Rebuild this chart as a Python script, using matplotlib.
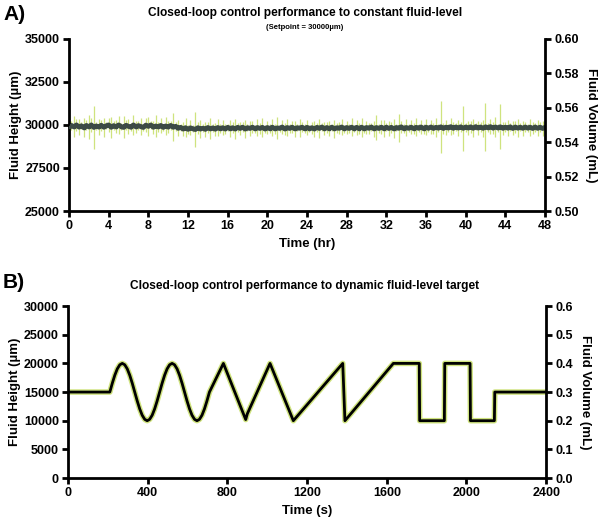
import numpy as np
import matplotlib
matplotlib.use("Agg")
import matplotlib.pyplot as plt

plt.rcParams['font.family'] = ['Liberation Sans', 'DejaVu Sans']
plt.rcParams['font.weight'] = 'bold'

# ---------------- Panel A data (time in hr, height in um) ----------------
a_step_hr = 0.25
a_mean = [
    29850, 29960, 29880, 29990, 29870, 29940, 29830, 29960, 29880, 29990, 29850, 29930, 29870, 29970, 29860, 29940,
    29990, 29860, 29950, 29880, 29990, 29900, 29850, 29970, 29910, 29860, 29990, 29880, 29950, 29900, 29850, 29980,
    29910, 29990, 29860, 29930, 29880, 29960, 29850, 29930, 29870, 29960, 29860, 29910, 29800, 29850, 29760, 29830,
    29740, 29820, 29770, 29730, 29830, 29760, 29800, 29740, 29840, 29770, 29820, 29750, 29840, 29780, 29830, 29760,
    29850, 29780, 29830, 29760, 29850, 29790, 29860, 29760, 29830, 29790, 29860, 29770, 29840, 29790, 29850, 29760,
    29840, 29780, 29860, 29770, 29820, 29790, 29870, 29760, 29840, 29790, 29860, 29770, 29830, 29800, 29860, 29770,
    29850, 29780, 29830, 29760, 29850, 29790, 29870, 29770, 29840, 29780, 29860, 29770, 29830, 29800, 29870, 29770,
    29840, 29790, 29860, 29770, 29850, 29780, 29860, 29770, 29840, 29800, 29870, 29770, 29840, 29790, 29860, 29780,
    29860, 29790, 29850, 29770, 29840, 29800, 29880, 29780, 29840, 29800, 29860, 29780, 29850, 29800, 29870, 29780,
    29860, 29800, 29870, 29790, 29850, 29810, 29880, 29790, 29860, 29820, 29890, 29800, 29870, 29820, 29880, 29800,
    29870, 29820, 29880, 29800, 29890, 29820, 29870, 29800, 29880, 29830, 29890, 29810, 29870, 29820, 29880, 29800,
    29860, 29810, 29880, 29790, 29870, 29810, 29860, 29800, 29870, 29810, 29860, 29790, 29870, 29800, 29860, 29790,
    29850,
]
a_err = [
    520, 250, 610, 330, 440, 210, 560, 290, 700, 380, 1250, 230, 470, 320, 540, 200,
    430, 610, 260, 380, 520, 180, 640, 300, 450, 220, 580, 340, 260, 490, 200, 410,
    560, 240, 380, 620, 300, 450, 210, 520, 330, 250, 800, 280, 470, 200, 390, 560,
    260, 430, 200, 1000, 340, 520, 230, 450, 300, 600, 220, 380, 500, 240, 420, 310,
    210, 480, 330, 560, 240, 400, 290, 520, 200, 440, 350, 230, 470, 300, 560, 210,
    380, 260, 490, 300, 620, 220, 400, 330, 510, 240, 360, 450, 210, 530, 300, 250,
    420, 200, 360, 480, 260, 540, 220, 390, 310, 450, 200, 520, 280, 360, 490, 230,
    380, 270, 510, 210, 430, 300, 560, 240, 400, 330, 220, 470, 700, 260, 390, 500,
    230, 430, 300, 550, 210, 800, 360, 260, 480, 220, 400, 330, 520, 240, 380, 290,
    470, 210, 420, 330, 560, 250, 1500, 300, 440, 220, 510, 360, 240, 470, 300, 1300,
    260, 420, 340, 530, 220, 400, 300, 480, 1400, 250, 420, 330, 560, 230, 1300, 370,
    300, 480, 220, 410, 360, 540, 240, 430, 310, 220, 500, 350, 260, 460, 300, 420,
    380,
]
a_time = np.arange(len(a_mean)) * a_step_hr

# ---------------- Panel B data (time in s, height in um) ----------------
b_time = [0, 100, 210,
          222.5, 235, 247.5, 260, 272.5, 285, 297.5, 310, 322.5, 335,
          347.5, 360, 372.5, 385, 397.5, 410, 422.5, 435, 447.5, 460,
          472.5, 485, 497.5, 510, 522.5, 535, 547.5, 560, 572.5, 585,
          597.5, 610, 622.5, 635, 647.5, 660, 672.5, 685, 697.5, 710,
          780, 892, 900, 1014, 1131, 1379, 1390, 1633, 1763, 1765,
          1889, 1891, 2018, 2020, 2140, 2142, 2400]
b_height = [15000, 15000, 15000,
            16545, 17939, 19045, 19755, 20000, 19755, 19045, 17939, 16545, 15000,
            13455, 12061, 10955, 10245, 10000, 10245, 10955, 12061, 13455, 15000,
            16545, 17939, 19045, 19755, 20000, 19755, 19045, 17939, 16545, 15000,
            13455, 12061, 10955, 10245, 10000, 10245, 10955, 12061, 13455, 15000,
            20000, 10200, 11200, 20000, 10000, 20000, 10000, 20000, 20000, 10000,
            10000, 20000, 20000, 10000, 10000, 15000, 15000]

GREEN = '#cfe37e'
DARK = '#3c4a45'

fig = plt.figure(figsize=(6.0, 5.21), dpi=100)

def style_axes(ax, ax2):
    for a in (ax, ax2):
        a.spines['top'].set_visible(False)
        for s in ('left', 'right', 'bottom'):
            a.spines[s].set_linewidth(2)
        a.tick_params(width=2, length=4, labelsize=9, direction='out', pad=2.5)
    ax.spines['right'].set_visible(False)
    ax2.spines['left'].set_visible(False)
    ax2.spines['bottom'].set_visible(False)
    for lab in ax.get_xticklabels() + ax.get_yticklabels() + ax2.get_yticklabels():
        lab.set_fontweight('bold')

# ---------------- Panel A ----------------
axA = fig.add_axes([0.115, 0.595, 0.7933, 0.331])
axA.errorbar(a_time, a_mean, yerr=a_err, fmt='none', ecolor=GREEN, elinewidth=0.9, zorder=1)
axA.plot(a_time, a_mean, color=DARK, lw=3.5, zorder=2)
axA.plot(a_time, a_mean, 's', color=DARK, ms=2.0, zorder=3)
axA.set_xlim(0, 48)
axA.set_ylim(25000, 35000)
axA.set_xticks(np.arange(0, 49, 4))
axA.set_yticks(np.arange(25000, 35001, 2500))
axA.set_xlabel('Time (hr)', fontsize=9.5, fontweight='bold', labelpad=4)
axA.set_ylabel('Fluid Height (µm)', fontsize=9.5, fontweight='bold', labelpad=2)
axA2 = axA.twinx()
axA2.set_ylim(0.50, 0.60)
axA2.set_yticks(np.arange(0.50, 0.601, 0.02))
axA2.set_yticklabels([f'{v:.2f}' for v in np.arange(0.50, 0.601, 0.02)])
axA2.set_ylabel('Fluid Volume (mL)', fontsize=9.5, fontweight='bold', rotation=270, labelpad=13)
style_axes(axA, axA2)

fig.text(0.005, 0.972, 'A)', fontsize=15, fontweight='bold', ha='left', va='center')
fig.text(0.508, 0.975, 'Closed-loop control performance to constant fluid-level',
         fontsize=8.6, fontweight='bold', ha='center', va='center')
fig.text(0.508, 0.948, '(Setpoint = 30000µm)', fontsize=5.5, fontweight='bold', ha='center', va='center')

# ---------------- Panel B ----------------
axB = fig.add_axes([0.1133, 0.0825, 0.797, 0.330])
axB.plot(b_time, b_height, color=GREEN, lw=4.0, zorder=1, solid_joinstyle='round')
axB.plot(b_time, b_height, color='black', lw=2.0, zorder=2)
axB.set_xlim(0, 2400)
axB.set_ylim(0, 30000)
axB.set_xticks(np.arange(0, 2401, 400))
axB.set_yticks(np.arange(0, 30001, 5000))
axB.set_xlabel('Time (s)', fontsize=9.5, fontweight='bold', labelpad=4)
axB.set_ylabel('Fluid Height (µm)', fontsize=9.5, fontweight='bold', labelpad=2)
axB2 = axB.twinx()
axB2.set_ylim(0.0, 0.6)
axB2.set_yticks(np.arange(0.0, 0.61, 0.1))
axB2.set_yticklabels([f'{v:.1f}' for v in np.arange(0.0, 0.61, 0.1)])
axB2.set_ylabel('Fluid Volume (mL)', fontsize=9.5, fontweight='bold', rotation=270, labelpad=13)
style_axes(axB, axB2)

fig.text(0.005, 0.458, 'B)', fontsize=15, fontweight='bold', ha='left', va='center')
fig.text(0.508, 0.452, 'Closed-loop control performance to dynamic fluid-level target',
         fontsize=8.6, fontweight='bold', ha='center', va='center')

fig.savefig('out.png', dpi=100)
